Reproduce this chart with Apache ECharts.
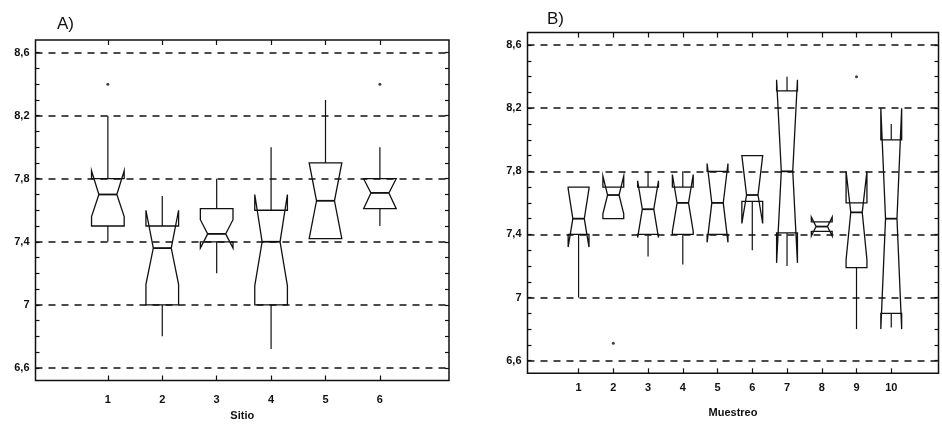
<!DOCTYPE html>
<html>
<head>
<meta charset="utf-8">
<script src="https://cdn.jsdelivr.net/npm/echarts@6/dist/echarts.min.js"></script>
<style>
  html, body { margin: 0; padding: 0; background: #fff; }
  #chart { width: 942px; height: 428px; }
</style>
</head>
<body>
<div id="chart"></div>
<script>
// Panel A: pH by site (Sitio)
const sitio = ['1', '2', '3', '4', '5', '6'];
const whiskerLowA  = [7.40, 6.80, 7.20, 6.72, 7.42, 7.50];
const q1A          = [7.50, 7.00, 7.40, 7.00, 7.42, 7.61];
const notchLowA    = [7.56, 7.13, 7.36, 7.12, 7.42, 7.61];
const medianA      = [7.70, 7.36, 7.45, 7.40, 7.66, 7.71];
const notchHighA   = [7.85, 7.60, 7.54, 7.70, 7.90, 7.80];
const q3A          = [7.80, 7.50, 7.61, 7.60, 7.90, 7.80];
const whiskerHighA = [8.20, 7.69, 7.80, 8.00, 8.30, 8.00];
const outliersA    = [[1, 8.40], [6, 8.40]];

// Panel B: pH by sampling campaign (Muestreo)
const muestreo = ['1', '2', '3', '4', '5', '6', '7', '8', '9', '10'];
const whiskerLowB  = [7.00, 7.50, 7.26, 7.21, 7.40, 7.30, 7.20, 7.42, 6.80, 6.81];
const q1B          = [7.40, 7.50, 7.40, 7.40, 7.40, 7.61, 7.41, 7.42, 7.19, 6.90];
const notchLowB    = [7.32, 7.53, 7.38, 7.42, 7.35, 7.47, 7.22, 7.39, 7.24, 6.80];
const medianB      = [7.50, 7.65, 7.56, 7.60, 7.60, 7.65, 7.80, 7.45, 7.54, 7.50];
const notchHighB   = [7.69, 7.77, 7.74, 7.78, 7.85, 7.90, 8.38, 7.51, 7.80, 8.20];
const q3B          = [7.70, 7.70, 7.70, 7.70, 7.80, 7.90, 8.31, 7.48, 7.60, 8.00];
const whiskerHighB = [7.70, 7.70, 7.80, 7.80, 7.80, 7.90, 8.40, 7.48, 7.60, 8.10];
const outliersB    = [[2, 6.71], [9, 8.40]];

// Value axis ticks
const yLabelValues = [6.6, 7, 7.4, 7.8, 8.2, 8.6];
const yTickValues = [6.6, 6.7, 6.8, 6.9, 7.0, 7.1, 7.2, 7.3, 7.4, 7.5, 7.6, 7.7,
                     7.8, 7.9, 8.0, 8.1, 8.2, 8.3, 8.4, 8.5, 8.6];
const Y_MIN = 6.52, Y_MAX = 8.68;

const INK = '#111';
const FONT = '"Liberation Sans", Arial, sans-serif';

function boxRows(cats, wl, q1, nl, md, nh, q3, wh) {
  return cats.map((c, i) => [i + 1, wl[i], q1[i], nl[i], md[i], nh[i], q3[i], wh[i]]);
}

// Notched box: outline polygon (notches may fold past the hinges), median bar, whiskers
function renderNotchBox(params, api) {
  const x = api.value(0);
  const y = i => api.coord([x, api.value(i)])[1];
  const cx = api.coord([x, api.value(4)])[0];
  const half = api.size([0.6, 0])[0] / 2;
  const ind = half * 0.45;
  const wL = y(1), q1 = y(2), nL = y(3), md = y(4), nH = y(5), q3 = y(6), wH = y(7);
  const L = cx - half, R = cx + half;
  const st = { fill: 'none', stroke: INK, lineWidth: 1.3 };
  return {
    type: 'group',
    children: [
      { type: 'polygon', shape: { points: [[L, q1], [L, nL], [L + ind, md], [L, nH], [L, q3],
                                            [R, q3], [R, nH], [R - ind, md], [R, nL], [R, q1]] }, style: st },
      { type: 'line', shape: { x1: L + ind, y1: md, x2: R - ind, y2: md }, style: { stroke: INK, lineWidth: 1.8 } },
      { type: 'line', shape: { x1: cx, y1: q3, x2: cx, y2: wH }, style: { stroke: INK, lineWidth: 1.2 } },
      { type: 'line', shape: { x1: cx, y1: q1, x2: cx, y2: wL }, style: { stroke: INK, lineWidth: 1.2 } }
    ]
  };
}

function xAxes(gridIndex, cats, min, max, name, labelMargin, nameGap) {
  const ticks = cats.map((c, i) => i + 1);
  return [
    {
      type: 'value', gridIndex, min, max, position: 'bottom',
      name, nameLocation: 'middle', nameGap,
      nameTextStyle: { fontFamily: FONT, fontSize: 11, fontWeight: 'bold', color: INK },
      axisLine: { show: false, onZero: false },
      axisTick: { show: true, inside: true, length: 5, customValues: ticks, lineStyle: { color: INK, width: 1.2 } },
      axisLabel: { show: true, customValues: ticks, margin: labelMargin, formatter: v => cats[Math.round(v) - 1],
                   fontFamily: FONT, fontSize: 11, fontWeight: 'bold', color: INK },
      splitLine: { show: false }
    },
    {
      type: 'value', gridIndex, min, max, position: 'top',
      axisLine: { show: false, onZero: false },
      axisTick: { show: true, inside: true, length: 5, customValues: ticks, lineStyle: { color: INK, width: 1.2 } },
      axisLabel: { show: false },
      splitLine: { show: false }
    }
  ];
}

function yAxes(gridIndex) {
  return [
    {
      type: 'value', gridIndex, min: Y_MIN, max: Y_MAX, position: 'left',
      axisLine: { show: false, onZero: false },
      axisTick: { show: true, inside: true, length: 4, customValues: yTickValues, lineStyle: { color: INK, width: 1.2 } },
      axisLabel: { show: true, customValues: yLabelValues, margin: 6,
                   formatter: v => String(v).replace('.', ','),
                   fontFamily: FONT, fontSize: 11, fontWeight: 'bold', color: INK },
      splitLine: { show: false }
    },
    {
      type: 'value', gridIndex, min: Y_MIN, max: Y_MAX, position: 'right',
      axisLine: { show: false, onZero: false },
      axisTick: { show: true, inside: true, length: 4, customValues: yTickValues, lineStyle: { color: INK, width: 1.2 } },
      axisLabel: { show: false },
      splitLine: { show: false }
    }
  ];
}

const gridLines = {
  symbol: 'none', silent: true, label: { show: false },
  lineStyle: { type: [7, 6], color: INK, width: 1.5 },
  emphasis: { disabled: true },
  data: yLabelValues.map(v => ({ yAxis: v }))
};

const chart = echarts.init(document.getElementById('chart'), null, { renderer: 'canvas' });
chart.setOption({
  backgroundColor: '#fff',
  animation: false,
  title: [
    { text: 'A)', left: 52, top: 11, textStyle: { fontFamily: FONT, fontSize: 17, fontWeight: 'normal', color: INK } },
    { text: 'B)', left: 542, top: 6, textStyle: { fontFamily: FONT, fontSize: 17, fontWeight: 'normal', color: INK } }
  ],
  grid: [
    { left: 35.5, right: 493, top: 40, bottom: 47.5, show: true, borderColor: INK, borderWidth: 1.5, containLabel: false },
    { left: 527.5, right: 3.5, top: 32.5, bottom: 54.7, show: true, borderColor: INK, borderWidth: 1.5, containLabel: false }
  ],
  xAxis: [
    ...xAxes(0, sitio, -0.33, 7.27, 'Sitio', 14, 30),
    ...xAxes(1, muestreo, -0.47, 11.36, 'Muestreo', 9, 34)
  ],
  yAxis: [...yAxes(0), ...yAxes(1)],
  series: [
    {
      type: 'scatter', xAxisIndex: 0, yAxisIndex: 0, z: 1,
      data: outliersA, symbol: 'circle', symbolSize: 3, itemStyle: { color: INK },
      markLine: gridLines
    },
    {
      type: 'custom', xAxisIndex: 0, yAxisIndex: 0, z: 2,
      renderItem: renderNotchBox,
      encode: { x: 0, y: [1, 2, 3, 4, 5, 6, 7] },
      data: boxRows(sitio, whiskerLowA, q1A, notchLowA, medianA, notchHighA, q3A, whiskerHighA)
    },
    {
      type: 'scatter', xAxisIndex: 2, yAxisIndex: 2, z: 1,
      data: outliersB, symbol: 'circle', symbolSize: 3, itemStyle: { color: INK },
      markLine: gridLines
    },
    {
      type: 'custom', xAxisIndex: 2, yAxisIndex: 2, z: 2,
      renderItem: renderNotchBox,
      encode: { x: 0, y: [1, 2, 3, 4, 5, 6, 7] },
      data: boxRows(muestreo, whiskerLowB, q1B, notchLowB, medianB, notchHighB, q3B, whiskerHighB)
    }
  ]
});
</script>
</body>
</html>
